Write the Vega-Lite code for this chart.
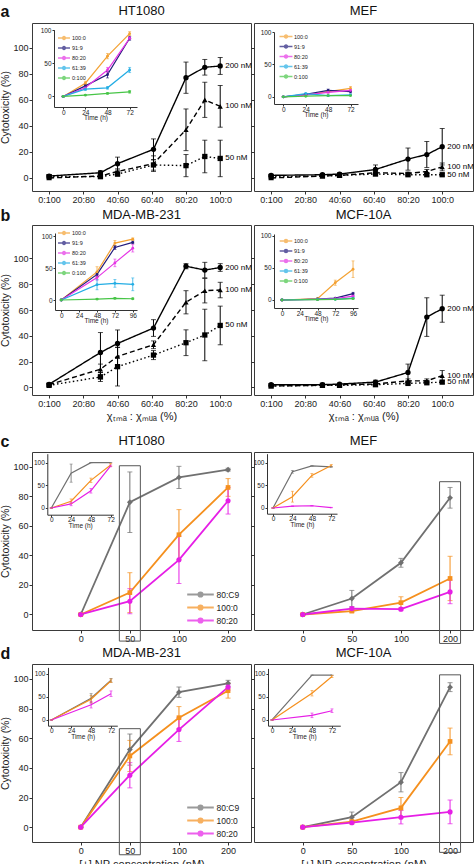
{
"$schema": "https://vega.github.io/schema/vega-lite/v6.json",
"background": "white",
"padding": {"left": 0, "top": 3, "right": 0, "bottom": 0},
"datasets": {
"ab": [
{"cell":"HT1080","conc":"200 nM","r":0,"v":1.5,"e":1},{"cell":"HT1080","conc":"200 nM","r":30,"v":4,"e":1.5},{"cell":"HT1080","conc":"200 nM","r":40,"v":11,"e":5},{"cell":"HT1080","conc":"200 nM","r":61,"v":22,"e":8},{"cell":"HT1080","conc":"200 nM","r":80,"v":77,"e":12},{"cell":"HT1080","conc":"200 nM","r":91,"v":85,"e":6},{"cell":"HT1080","conc":"200 nM","r":100,"v":86,"e":6.5},
{"cell":"HT1080","conc":"100 nM","r":0,"v":0,"e":1},{"cell":"HT1080","conc":"100 nM","r":30,"v":1.5,"e":1},{"cell":"HT1080","conc":"100 nM","r":40,"v":5,"e":2},{"cell":"HT1080","conc":"100 nM","r":61,"v":11,"e":6},{"cell":"HT1080","conc":"100 nM","r":80,"v":37,"e":16},{"cell":"HT1080","conc":"100 nM","r":91,"v":60,"e":13.5},{"cell":"HT1080","conc":"100 nM","r":100,"v":55,"e":16},
{"cell":"HT1080","conc":"50 nM","r":0,"v":1,"e":1},{"cell":"HT1080","conc":"50 nM","r":30,"v":1,"e":1},{"cell":"HT1080","conc":"50 nM","r":40,"v":3,"e":1.5},{"cell":"HT1080","conc":"50 nM","r":61,"v":10,"e":4},{"cell":"HT1080","conc":"50 nM","r":80,"v":9.5,"e":8.5},{"cell":"HT1080","conc":"50 nM","r":91,"v":16.5,"e":12.5},{"cell":"HT1080","conc":"50 nM","r":100,"v":15,"e":14},
{"cell":"MEF","conc":"200 nM","r":0,"v":2,"e":1},{"cell":"MEF","conc":"200 nM","r":30,"v":2.5,"e":1},{"cell":"MEF","conc":"200 nM","r":40,"v":3,"e":1},{"cell":"MEF","conc":"200 nM","r":61,"v":6.5,"e":3.5},{"cell":"MEF","conc":"200 nM","r":80,"v":14.5,"e":8.5},{"cell":"MEF","conc":"200 nM","r":91,"v":18,"e":10},{"cell":"MEF","conc":"200 nM","r":100,"v":24,"e":14},
{"cell":"MEF","conc":"100 nM","r":0,"v":0,"e":1},{"cell":"MEF","conc":"100 nM","r":30,"v":1.5,"e":0.5},{"cell":"MEF","conc":"100 nM","r":40,"v":2,"e":0.5},{"cell":"MEF","conc":"100 nM","r":61,"v":4,"e":1},{"cell":"MEF","conc":"100 nM","r":80,"v":3.5,"e":1},{"cell":"MEF","conc":"100 nM","r":91,"v":5,"e":1.5},{"cell":"MEF","conc":"100 nM","r":100,"v":8.5,"e":3},
{"cell":"MEF","conc":"50 nM","r":0,"v":1,"e":0.5},{"cell":"MEF","conc":"50 nM","r":30,"v":1.5,"e":0.5},{"cell":"MEF","conc":"50 nM","r":40,"v":2,"e":0.5},{"cell":"MEF","conc":"50 nM","r":61,"v":3,"e":1},{"cell":"MEF","conc":"50 nM","r":80,"v":2.5,"e":1},{"cell":"MEF","conc":"50 nM","r":91,"v":2.5,"e":1},{"cell":"MEF","conc":"50 nM","r":100,"v":2.5,"e":1},
{"cell":"MDA-MB-231","conc":"200 nM","r":0,"v":2.3,"e":1},{"cell":"MDA-MB-231","conc":"200 nM","r":30,"v":27,"e":15.5},{"cell":"MDA-MB-231","conc":"200 nM","r":40,"v":34,"e":10.5},{"cell":"MDA-MB-231","conc":"200 nM","r":61,"v":46,"e":6.5},{"cell":"MDA-MB-231","conc":"200 nM","r":80,"v":94,"e":2},{"cell":"MDA-MB-231","conc":"200 nM","r":91,"v":91,"e":6},{"cell":"MDA-MB-231","conc":"200 nM","r":100,"v":93,"e":3},
{"cell":"MDA-MB-231","conc":"100 nM","r":0,"v":2,"e":1},{"cell":"MDA-MB-231","conc":"100 nM","r":30,"v":14,"e":4},{"cell":"MDA-MB-231","conc":"100 nM","r":40,"v":24,"e":7},{"cell":"MDA-MB-231","conc":"100 nM","r":61,"v":33,"e":3},{"cell":"MDA-MB-231","conc":"100 nM","r":80,"v":66,"e":9},{"cell":"MDA-MB-231","conc":"100 nM","r":91,"v":75,"e":9.5},{"cell":"MDA-MB-231","conc":"100 nM","r":100,"v":75.5,"e":6},
{"cell":"MDA-MB-231","conc":"50 nM","r":0,"v":1.5,"e":1},{"cell":"MDA-MB-231","conc":"50 nM","r":30,"v":8,"e":3.5},{"cell":"MDA-MB-231","conc":"50 nM","r":40,"v":16,"e":15},{"cell":"MDA-MB-231","conc":"50 nM","r":61,"v":25,"e":3.5},{"cell":"MDA-MB-231","conc":"50 nM","r":80,"v":34.6,"e":10},{"cell":"MDA-MB-231","conc":"50 nM","r":91,"v":40.6,"e":20},{"cell":"MDA-MB-231","conc":"50 nM","r":100,"v":48,"e":15},
{"cell":"MCF-10A","conc":"200 nM","r":0,"v":2,"e":1},{"cell":"MCF-10A","conc":"200 nM","r":30,"v":2,"e":0.5},{"cell":"MCF-10A","conc":"200 nM","r":40,"v":2.5,"e":0.5},{"cell":"MCF-10A","conc":"200 nM","r":61,"v":4,"e":1.5},{"cell":"MCF-10A","conc":"200 nM","r":80,"v":11.5,"e":6.5},{"cell":"MCF-10A","conc":"200 nM","r":91,"v":54.5,"e":15},{"cell":"MCF-10A","conc":"200 nM","r":100,"v":61,"e":10.5},
{"cell":"MCF-10A","conc":"100 nM","r":0,"v":1,"e":0.5},{"cell":"MCF-10A","conc":"100 nM","r":30,"v":1.5,"e":0.5},{"cell":"MCF-10A","conc":"100 nM","r":40,"v":2,"e":0.5},{"cell":"MCF-10A","conc":"100 nM","r":61,"v":2.5,"e":1},{"cell":"MCF-10A","conc":"100 nM","r":80,"v":5,"e":1.5},{"cell":"MCF-10A","conc":"100 nM","r":91,"v":5,"e":1.5},{"cell":"MCF-10A","conc":"100 nM","r":100,"v":9,"e":4},
{"cell":"MCF-10A","conc":"50 nM","r":0,"v":1,"e":0.5},{"cell":"MCF-10A","conc":"50 nM","r":30,"v":1.5,"e":0.5},{"cell":"MCF-10A","conc":"50 nM","r":40,"v":1.5,"e":0.5},{"cell":"MCF-10A","conc":"50 nM","r":61,"v":2,"e":1},{"cell":"MCF-10A","conc":"50 nM","r":80,"v":3,"e":1},{"cell":"MCF-10A","conc":"50 nM","r":91,"v":3.5,"e":1},{"cell":"MCF-10A","conc":"50 nM","r":100,"v":4,"e":1}
],
"abi": [
{"cell":"HT1080","ratio":"100:0","t":0,"v":0,"e":0.5},{"cell":"HT1080","ratio":"100:0","t":24,"v":20,"e":3},{"cell":"HT1080","ratio":"100:0","t":48,"v":61,"e":4},{"cell":"HT1080","ratio":"100:0","t":72,"v":95,"e":3},
{"cell":"HT1080","ratio":"91:9","t":0,"v":0,"e":0.5},{"cell":"HT1080","ratio":"91:9","t":24,"v":16,"e":2},{"cell":"HT1080","ratio":"91:9","t":48,"v":33,"e":5},{"cell":"HT1080","ratio":"91:9","t":72,"v":88,"e":3},
{"cell":"HT1080","ratio":"80:20","t":0,"v":0,"e":0.5},{"cell":"HT1080","ratio":"80:20","t":24,"v":13,"e":2},{"cell":"HT1080","ratio":"80:20","t":48,"v":40,"e":4},{"cell":"HT1080","ratio":"80:20","t":72,"v":88,"e":2},
{"cell":"HT1080","ratio":"61:39","t":0,"v":0,"e":0.5},{"cell":"HT1080","ratio":"61:39","t":24,"v":11,"e":2},{"cell":"HT1080","ratio":"61:39","t":48,"v":13,"e":2},{"cell":"HT1080","ratio":"61:39","t":72,"v":40,"e":4},
{"cell":"HT1080","ratio":"0:100","t":0,"v":0,"e":0.5},{"cell":"HT1080","ratio":"0:100","t":24,"v":2,"e":1},{"cell":"HT1080","ratio":"0:100","t":48,"v":4.5,"e":1},{"cell":"HT1080","ratio":"0:100","t":72,"v":7,"e":2},
{"cell":"MEF","ratio":"100:0","t":0,"v":0,"e":0.5},{"cell":"MEF","ratio":"100:0","t":24,"v":3,"e":1},{"cell":"MEF","ratio":"100:0","t":48,"v":8,"e":2},{"cell":"MEF","ratio":"100:0","t":72,"v":13,"e":3},
{"cell":"MEF","ratio":"91:9","t":0,"v":0,"e":0.5},{"cell":"MEF","ratio":"91:9","t":24,"v":4,"e":1},{"cell":"MEF","ratio":"91:9","t":48,"v":10,"e":2},{"cell":"MEF","ratio":"91:9","t":72,"v":8,"e":2},
{"cell":"MEF","ratio":"80:20","t":0,"v":0,"e":0.5},{"cell":"MEF","ratio":"80:20","t":24,"v":3,"e":1},{"cell":"MEF","ratio":"80:20","t":48,"v":7,"e":1},{"cell":"MEF","ratio":"80:20","t":72,"v":10,"e":1},
{"cell":"MEF","ratio":"61:39","t":0,"v":0,"e":0.5},{"cell":"MEF","ratio":"61:39","t":24,"v":5,"e":1},{"cell":"MEF","ratio":"61:39","t":48,"v":2,"e":1},{"cell":"MEF","ratio":"61:39","t":72,"v":3,"e":1},
{"cell":"MEF","ratio":"0:100","t":0,"v":0,"e":0.5},{"cell":"MEF","ratio":"0:100","t":24,"v":1,"e":0.5},{"cell":"MEF","ratio":"0:100","t":48,"v":2,"e":0.5},{"cell":"MEF","ratio":"0:100","t":72,"v":2,"e":0.5},
{"cell":"MDA-MB-231","ratio":"100:0","t":0,"v":0,"e":0.5},{"cell":"MDA-MB-231","ratio":"100:0","t":48,"v":44,"e":8},{"cell":"MDA-MB-231","ratio":"100:0","t":72,"v":89,"e":4},{"cell":"MDA-MB-231","ratio":"100:0","t":96,"v":95,"e":2},
{"cell":"MDA-MB-231","ratio":"91:9","t":0,"v":0,"e":0.5},{"cell":"MDA-MB-231","ratio":"91:9","t":48,"v":40,"e":3},{"cell":"MDA-MB-231","ratio":"91:9","t":72,"v":82,"e":3},{"cell":"MDA-MB-231","ratio":"91:9","t":96,"v":90,"e":2},
{"cell":"MDA-MB-231","ratio":"80:20","t":0,"v":0,"e":0.5},{"cell":"MDA-MB-231","ratio":"80:20","t":48,"v":35,"e":4},{"cell":"MDA-MB-231","ratio":"80:20","t":72,"v":58,"e":6},{"cell":"MDA-MB-231","ratio":"80:20","t":96,"v":81,"e":6},
{"cell":"MDA-MB-231","ratio":"61:39","t":0,"v":0,"e":0.5},{"cell":"MDA-MB-231","ratio":"61:39","t":48,"v":24,"e":8},{"cell":"MDA-MB-231","ratio":"61:39","t":72,"v":26,"e":6},{"cell":"MDA-MB-231","ratio":"61:39","t":96,"v":24.5,"e":10},
{"cell":"MDA-MB-231","ratio":"0:100","t":0,"v":0,"e":0.5},{"cell":"MDA-MB-231","ratio":"0:100","t":48,"v":1.5,"e":1},{"cell":"MDA-MB-231","ratio":"0:100","t":72,"v":2.6,"e":1},{"cell":"MDA-MB-231","ratio":"0:100","t":96,"v":2,"e":1},
{"cell":"MCF-10A","ratio":"100:0","t":0,"v":0,"e":0.5},{"cell":"MCF-10A","ratio":"100:0","t":48,"v":2,"e":1},{"cell":"MCF-10A","ratio":"100:0","t":72,"v":27,"e":4},{"cell":"MCF-10A","ratio":"100:0","t":96,"v":48,"e":13},
{"cell":"MCF-10A","ratio":"91:9","t":0,"v":0,"e":0.5},{"cell":"MCF-10A","ratio":"91:9","t":48,"v":1.5,"e":0.5},{"cell":"MCF-10A","ratio":"91:9","t":72,"v":3,"e":1},{"cell":"MCF-10A","ratio":"91:9","t":96,"v":10,"e":2},
{"cell":"MCF-10A","ratio":"80:20","t":0,"v":0,"e":0.5},{"cell":"MCF-10A","ratio":"80:20","t":48,"v":1,"e":0.5},{"cell":"MCF-10A","ratio":"80:20","t":72,"v":2,"e":0.5},{"cell":"MCF-10A","ratio":"80:20","t":96,"v":6,"e":1},
{"cell":"MCF-10A","ratio":"61:39","t":0,"v":0,"e":0.5},{"cell":"MCF-10A","ratio":"61:39","t":48,"v":1,"e":0.5},{"cell":"MCF-10A","ratio":"61:39","t":72,"v":1,"e":0.5},{"cell":"MCF-10A","ratio":"61:39","t":96,"v":3,"e":1},
{"cell":"MCF-10A","ratio":"0:100","t":0,"v":0,"e":0.5},{"cell":"MCF-10A","ratio":"0:100","t":48,"v":0.5,"e":0.5},{"cell":"MCF-10A","ratio":"0:100","t":72,"v":1,"e":0.5},{"cell":"MCF-10A","ratio":"0:100","t":96,"v":2,"e":0.5}
],
"cd": [
{"cell":"HT1080","ratio":"80:C9","c":"0","v":0,"e":0.5},{"cell":"HT1080","ratio":"80:C9","c":"50","v":76,"e":20.5},{"cell":"HT1080","ratio":"80:C9","c":"100","v":92.8,"e":7.5},{"cell":"HT1080","ratio":"80:C9","c":"200","v":98,"e":1},
{"cell":"HT1080","ratio":"100:0","c":"0","v":0,"e":0.5},{"cell":"HT1080","ratio":"100:0","c":"50","v":14.8,"e":13.5},{"cell":"HT1080","ratio":"100:0","c":"100","v":54,"e":17},{"cell":"HT1080","ratio":"100:0","c":"200","v":86,"e":6},
{"cell":"HT1080","ratio":"80:20","c":"0","v":0,"e":0.5},{"cell":"HT1080","ratio":"80:20","c":"50","v":9,"e":8.5},{"cell":"HT1080","ratio":"80:20","c":"100","v":37,"e":16},{"cell":"HT1080","ratio":"80:20","c":"200","v":77,"e":9},
{"cell":"MEF","ratio":"80:C9","c":"0","v":0,"e":0.5},{"cell":"MEF","ratio":"80:C9","c":"50","v":10.8,"e":5.5},{"cell":"MEF","ratio":"80:C9","c":"100","v":35,"e":3},{"cell":"MEF","ratio":"80:C9","c":"200","v":79,"e":7},
{"cell":"MEF","ratio":"100:0","c":"0","v":0,"e":0.5},{"cell":"MEF","ratio":"100:0","c":"50","v":2.3,"e":1},{"cell":"MEF","ratio":"100:0","c":"100","v":8,"e":4},{"cell":"MEF","ratio":"100:0","c":"200","v":24.4,"e":15},
{"cell":"MEF","ratio":"80:20","c":"0","v":0,"e":0.5},{"cell":"MEF","ratio":"80:20","c":"50","v":4,"e":1},{"cell":"MEF","ratio":"80:20","c":"100","v":3.6,"e":1},{"cell":"MEF","ratio":"80:20","c":"200","v":15.3,"e":8},
{"cell":"MDA-MB-231","ratio":"80:C9","c":"0","v":0,"e":0.5},{"cell":"MDA-MB-231","ratio":"80:C9","c":"50","v":52.3,"e":10.5},{"cell":"MDA-MB-231","ratio":"80:C9","c":"100","v":91,"e":3.5},{"cell":"MDA-MB-231","ratio":"80:C9","c":"200","v":97,"e":2},
{"cell":"MDA-MB-231","ratio":"100:0","c":"0","v":0,"e":0.5},{"cell":"MDA-MB-231","ratio":"100:0","c":"50","v":48,"e":10.5},{"cell":"MDA-MB-231","ratio":"100:0","c":"100","v":73.8,"e":7.5},{"cell":"MDA-MB-231","ratio":"100:0","c":"200","v":92,"e":5},
{"cell":"MDA-MB-231","ratio":"80:20","c":"0","v":0,"e":0.5},{"cell":"MDA-MB-231","ratio":"80:20","c":"50","v":35,"e":8.5},{"cell":"MDA-MB-231","ratio":"80:20","c":"100","v":65.8,"e":8},{"cell":"MDA-MB-231","ratio":"80:20","c":"200","v":94.4,"e":2},
{"cell":"MCF-10A","ratio":"80:C9","c":"0","v":0,"e":0.5},{"cell":"MCF-10A","ratio":"80:C9","c":"50","v":6.7,"e":3.5},{"cell":"MCF-10A","ratio":"80:C9","c":"100","v":30.3,"e":6.5},{"cell":"MCF-10A","ratio":"80:C9","c":"200","v":94.4,"e":3},
{"cell":"MCF-10A","ratio":"100:0","c":"0","v":0,"e":0.5},{"cell":"MCF-10A","ratio":"100:0","c":"50","v":3.8,"e":1},{"cell":"MCF-10A","ratio":"100:0","c":"100","v":13,"e":7},{"cell":"MCF-10A","ratio":"100:0","c":"200","v":57.8,"e":9},
{"cell":"MCF-10A","ratio":"80:20","c":"0","v":0,"e":0.5},{"cell":"MCF-10A","ratio":"80:20","c":"50","v":3,"e":1},{"cell":"MCF-10A","ratio":"80:20","c":"100","v":6.7,"e":4.5},{"cell":"MCF-10A","ratio":"80:20","c":"200","v":10.3,"e":8}
],
"cdi": [
{"cell":"HT1080","ratio":"80:C9","t":0,"v":0,"e":0},{"cell":"HT1080","ratio":"80:C9","t":24,"v":77,"e":20},{"cell":"HT1080","ratio":"80:C9","t":48,"v":100,"e":0},{"cell":"HT1080","ratio":"80:C9","t":72,"v":100,"e":0},
{"cell":"HT1080","ratio":"100:0","t":0,"v":0,"e":0},{"cell":"HT1080","ratio":"100:0","t":24,"v":15,"e":5},{"cell":"HT1080","ratio":"100:0","t":48,"v":61,"e":5},{"cell":"HT1080","ratio":"100:0","t":72,"v":95,"e":3},
{"cell":"HT1080","ratio":"80:20","t":0,"v":0,"e":0},{"cell":"HT1080","ratio":"80:20","t":24,"v":9,"e":4},{"cell":"HT1080","ratio":"80:20","t":48,"v":38,"e":5},{"cell":"HT1080","ratio":"80:20","t":72,"v":93,"e":2},
{"cell":"MEF","ratio":"80:C9","t":0,"v":0,"e":0},{"cell":"MEF","ratio":"80:C9","t":24,"v":80,"e":3},{"cell":"MEF","ratio":"80:C9","t":48,"v":93,"e":0},{"cell":"MEF","ratio":"80:C9","t":72,"v":91,"e":1},
{"cell":"MEF","ratio":"100:0","t":0,"v":0,"e":0},{"cell":"MEF","ratio":"100:0","t":24,"v":25,"e":12},{"cell":"MEF","ratio":"100:0","t":48,"v":72,"e":4},{"cell":"MEF","ratio":"100:0","t":72,"v":94,"e":2},
{"cell":"MEF","ratio":"80:20","t":0,"v":0,"e":0},{"cell":"MEF","ratio":"80:20","t":24,"v":4,"e":0.5},{"cell":"MEF","ratio":"80:20","t":48,"v":5,"e":0.5},{"cell":"MEF","ratio":"80:20","t":72,"v":1,"e":0.5},
{"cell":"MDA-MB-231","ratio":"80:C9","t":0,"v":0,"e":0},{"cell":"MDA-MB-231","ratio":"80:C9","t":48,"v":47,"e":10},{"cell":"MDA-MB-231","ratio":"80:C9","t":72,"v":86,"e":4},
{"cell":"MDA-MB-231","ratio":"100:0","t":0,"v":0,"e":0},{"cell":"MDA-MB-231","ratio":"100:0","t":48,"v":45,"e":8},{"cell":"MDA-MB-231","ratio":"100:0","t":72,"v":85,"e":4},
{"cell":"MDA-MB-231","ratio":"80:20","t":0,"v":0,"e":0},{"cell":"MDA-MB-231","ratio":"80:20","t":48,"v":33,"e":7},{"cell":"MDA-MB-231","ratio":"80:20","t":72,"v":57,"e":6},
{"cell":"MCF-10A","ratio":"80:C9","t":0,"v":0,"e":0},{"cell":"MCF-10A","ratio":"80:C9","t":48,"v":97,"e":0},{"cell":"MCF-10A","ratio":"80:C9","t":72,"v":97,"e":0},
{"cell":"MCF-10A","ratio":"100:0","t":0,"v":0,"e":0},{"cell":"MCF-10A","ratio":"100:0","t":48,"v":58,"e":6},{"cell":"MCF-10A","ratio":"100:0","t":72,"v":94,"e":2},
{"cell":"MCF-10A","ratio":"80:20","t":0,"v":0,"e":0},{"cell":"MCF-10A","ratio":"80:20","t":48,"v":10,"e":5},{"cell":"MCF-10A","ratio":"80:20","t":72,"v":20,"e":4}
]
},
"spacing": 11,
"resolve": {"scale": {"color": "independent", "shape": "independent", "strokeDash": "independent"}, "legend": {"color": "independent", "shape": "independent", "strokeDash": "independent"}},
"vconcat": [
{
"spacing": 2,
"resolve": {"scale": {"color": "independent", "shape": "independent", "strokeDash": "independent"}, "legend": {"color": "independent", "shape": "independent", "strokeDash": "independent"}},
"vconcat": [
{
"title": {"text": "a", "anchor": "start", "fontWeight": "bold", "fontSize": 16, "offset": -15, "frame": "bounds"},
"bounds": "flush", "spacing": 3,
"resolve": {"scale": {"color": "independent", "shape": "independent", "strokeDash": "independent"}, "legend": {"color": "independent", "shape": "independent", "strokeDash": "independent"}},
"hconcat": [
{
"width": 219, "height": 168, "title": {"text": "HT1080", "offset": 5},
"resolve": {"scale": {"x": "independent", "y": "independent"}, "axis": {"x": "independent", "y": "independent"}},
"layer": [
{"data": {"name": "ab"}, "transform": [{"filter": "datum.cell == 'HT1080'"}],
"encoding": {
"x": {"field": "r", "type": "quantitative", "scale": {"domain": [-10, 118], "nice": false, "zero": false}, "axis": {"values": [0,20,40,60,80,100], "labelExpr": "datum.value + ':' + (100 - datum.value)", "title": null}},
"y": {"field": "v", "type": "quantitative", "scale": {"domain": [-10, 119], "nice": false, "zero": false}, "axis": {"values": [0,20,40,60,80,100], "title": "Cytotoxicity (%)"}}},
"layer": [
{"mark": {"type": "line", "color": "black", "strokeWidth": 1.4}, "encoding": {"strokeDash": {"field": "conc", "type": "nominal", "scale": {"domain": ["200 nM","100 nM","50 nM"], "range": [[1,0],[5,3],[1.5,2.5]]}, "legend": null}}},
{"mark": {"type": "errorbar", "ticks": {"size": 5}, "color": "black", "thickness": 1}, "encoding": {"yError": {"field": "e"}}},
{"mark": {"type": "point", "filled": true, "color": "black", "size": 28, "opacity": 1}, "encoding": {"shape": {"field": "conc", "type": "nominal", "scale": {"domain": ["200 nM","100 nM","50 nM"], "range": ["circle","triangle-up","square"]}, "legend": null}}},
{"transform": [{"filter": "datum.r == 100"}], "mark": {"type": "text", "align": "left", "dx": 5, "fontSize": 8}, "encoding": {"text": {"field": "conc"}}}
]},
{
"encoding": {
"x": {"field": "t", "type": "quantitative", "scale": {"domain": [-10, 80], "range": [22, 105], "nice": false, "zero": false}, "axis": {"orient": "bottom", "offset": -84, "values": [0,24,48,72], "title": "Time (h)", "labelFontSize": 6.5, "titleFontSize": 6.5, "tickSize": 2, "labelPadding": 0, "titlePadding": -1, "zindex": 1, "domain": true, "domainColor": "#333", "domainWidth": 1}},
"y": {"field": "v", "type": "quantitative", "scale": {"domain": [-16, 101], "range": [84, 6.7], "nice": false, "zero": false}, "axis": {"orient": "left", "offset": -22, "values": [0,50,100], "title": null, "labelFontSize": 6.5, "tickSize": 2, "labelPadding": 1, "zindex": 1, "domain": true, "domainColor": "#333", "domainWidth": 1}}},
"layer": [
{"data": {"values": [{}]}, "mark": {"type": "rect", "fill": "white", "stroke": "#333", "strokeWidth": 1}, "encoding": {"x": {"datum": -10, "type": "quantitative"}, "x2": {"datum": 80}, "y": {"datum": -16, "type": "quantitative"}, "y2": {"datum": 101}}},
{"data": {"values": [{}]}, "mark": {"type": "rule", "color": "#333", "strokeWidth": 1}, "encoding": {"x": {"datum": -10, "type": "quantitative"}, "x2": {"datum": 80}, "y": {"datum": 101, "type": "quantitative"}}},
{"data": {"values": [{}]}, "mark": {"type": "rule", "color": "#333", "strokeWidth": 1}, "encoding": {"x": {"datum": 80, "type": "quantitative"}, "y": {"datum": -16, "type": "quantitative"}, "y2": {"datum": 101}}},
{"data": {"name": "abi"}, "transform": [{"filter": "datum.cell == 'HT1080'"}],
"encoding": {"color": {"field": "ratio", "type": "nominal", "scale": {"domain": ["100:0","91:9","80:20","61:39","0:100"], "range": ["#f4a233","#221c7c","#e535e5","#23ade4","#47c547"]}, "legend": {"title": null, "orient": "none", "legendX": 28, "legendY": 11, "symbolType": "M-2,0H2M-0.5,0A0.5,0.5,0,1,0,0.5,0A0.5,0.5,0,1,0,-0.5,0Z", "symbolSize": 36, "symbolStrokeWidth": 1.3, "labelFontSize": 5.5, "rowPadding": 0, "padding": 0, "labelOffset": 4}}},
"layer": [
{"mark": {"type": "line", "strokeWidth": 1.2}},
{"mark": {"type": "errorbar", "ticks": {"size": 3}, "thickness": 0.8}, "encoding": {"yError": {"field": "e"}}},
{"mark": {"type": "point", "filled": true, "size": 8, "opacity": 1}}
]}
]}
]
},
{
"width": 219, "height": 168, "title": {"text": "MEF", "offset": 5},
"resolve": {"scale": {"x": "independent", "y": "independent"}, "axis": {"x": "independent", "y": "independent"}},
"layer": [
{"data": {"name": "ab"}, "transform": [{"filter": "datum.cell == 'MEF'"}],
"encoding": {
"x": {"field": "r", "type": "quantitative", "scale": {"domain": [-10, 118], "nice": false, "zero": false}, "axis": {"values": [0,20,40,60,80,100], "labelExpr": "datum.value + ':' + (100 - datum.value)", "title": null}},
"y": {"field": "v", "type": "quantitative", "scale": {"domain": [-10, 119], "nice": false, "zero": false}, "axis": {"values": [0,20,40,60,80,100], "labels": false, "title": null}}},
"layer": [
{"mark": {"type": "line", "color": "black", "strokeWidth": 1.4}, "encoding": {"strokeDash": {"field": "conc", "type": "nominal", "scale": {"domain": ["200 nM","100 nM","50 nM"], "range": [[1,0],[5,3],[1.5,2.5]]}, "legend": null}}},
{"mark": {"type": "errorbar", "ticks": {"size": 5}, "color": "black", "thickness": 1}, "encoding": {"yError": {"field": "e"}}},
{"mark": {"type": "point", "filled": true, "color": "black", "size": 28, "opacity": 1}, "encoding": {"shape": {"field": "conc", "type": "nominal", "scale": {"domain": ["200 nM","100 nM","50 nM"], "range": ["circle","triangle-up","square"]}, "legend": null}}},
{"transform": [{"filter": "datum.r == 100"}], "mark": {"type": "text", "align": "left", "dx": 5, "fontSize": 8}, "encoding": {"text": {"field": "conc"}}}
]},
{
"encoding": {
"x": {"field": "t", "type": "quantitative", "scale": {"domain": [-10, 80], "range": [20, 104], "nice": false, "zero": false}, "axis": {"orient": "bottom", "offset": -87, "values": [0,24,48,72], "title": "Time (h)", "labelFontSize": 6.5, "titleFontSize": 6.5, "tickSize": 2, "labelPadding": 0, "titlePadding": -1, "zindex": 1, "domain": true, "domainColor": "#333", "domainWidth": 1}},
"y": {"field": "v", "type": "quantitative", "scale": {"domain": [-11, 100], "range": [81, 9], "nice": false, "zero": false}, "axis": {"orient": "left", "offset": -20, "values": [0,50,100], "title": null, "labelFontSize": 6.5, "tickSize": 2, "labelPadding": 1, "zindex": 1, "domain": true, "domainColor": "#333", "domainWidth": 1}}},
"layer": [
{"data": {"values": [{}]}, "mark": {"type": "rect", "fill": "white", "stroke": "#333", "strokeWidth": 1}, "encoding": {"x": {"datum": -10, "type": "quantitative"}, "x2": {"datum": 80}, "y": {"datum": -11, "type": "quantitative"}, "y2": {"datum": 100}}},
{"data": {"values": [{}]}, "mark": {"type": "rule", "color": "#333", "strokeWidth": 1}, "encoding": {"x": {"datum": -10, "type": "quantitative"}, "x2": {"datum": 80}, "y": {"datum": 100, "type": "quantitative"}}},
{"data": {"values": [{}]}, "mark": {"type": "rule", "color": "#333", "strokeWidth": 1}, "encoding": {"x": {"datum": 80, "type": "quantitative"}, "y": {"datum": -11, "type": "quantitative"}, "y2": {"datum": 100}}},
{"data": {"name": "abi"}, "transform": [{"filter": "datum.cell == 'MEF'"}],
"encoding": {"color": {"field": "ratio", "type": "nominal", "scale": {"domain": ["100:0","91:9","80:20","61:39","0:100"], "range": ["#f4a233","#221c7c","#e535e5","#23ade4","#47c547"]}, "legend": {"title": null, "orient": "none", "legendX": 28, "legendY": 9.5, "symbolType": "M-2,0H2M-0.5,0A0.5,0.5,0,1,0,0.5,0A0.5,0.5,0,1,0,-0.5,0Z", "symbolSize": 42, "symbolStrokeWidth": 1.3, "labelFontSize": 5.5, "rowPadding": 0, "padding": 0, "labelOffset": 4}}},
"layer": [
{"mark": {"type": "line", "strokeWidth": 1.2}},
{"mark": {"type": "errorbar", "ticks": {"size": 3}, "thickness": 0.8}, "encoding": {"yError": {"field": "e"}}},
{"mark": {"type": "point", "filled": true, "size": 8, "opacity": 1}}
]}
]}
]
}
]
},
{
"title": {"text": "b", "anchor": "start", "fontWeight": "bold", "fontSize": 16, "offset": -15, "frame": "bounds"},
"bounds": "flush", "spacing": 3,
"resolve": {"scale": {"color": "independent", "shape": "independent", "strokeDash": "independent"}, "legend": {"color": "independent", "shape": "independent", "strokeDash": "independent"}},
"hconcat": [
{
"width": 219, "height": 170, "title": {"text": "MDA-MB-231", "offset": 3},
"resolve": {"scale": {"x": "independent", "y": "independent"}, "axis": {"x": "independent", "y": "independent"}},
"layer": [
{"data": {"name": "ab"}, "transform": [{"filter": "datum.cell == 'MDA-MB-231'"}],
"encoding": {
"x": {"field": "r", "type": "quantitative", "scale": {"domain": [-10, 118], "nice": false, "zero": false}, "axis": {"values": [0,20,40,60,80,100], "labelExpr": "datum.value + ':' + (100 - datum.value)", "title": "χₜₘₐ : χₘᵤₐ (%)", "titleFontSize": 11, "titlePadding": 2}},
"y": {"field": "v", "type": "quantitative", "scale": {"domain": [-6, 126], "nice": false, "zero": false}, "axis": {"values": [0,20,40,60,80,100], "title": "Cytotoxicity (%)"}}},
"layer": [
{"mark": {"type": "line", "color": "black", "strokeWidth": 1.4}, "encoding": {"strokeDash": {"field": "conc", "type": "nominal", "scale": {"domain": ["200 nM","100 nM","50 nM"], "range": [[1,0],[5,3],[1.5,2.5]]}, "legend": null}}},
{"mark": {"type": "errorbar", "ticks": {"size": 5}, "color": "black", "thickness": 1}, "encoding": {"yError": {"field": "e"}}},
{"mark": {"type": "point", "filled": true, "color": "black", "size": 28, "opacity": 1}, "encoding": {"shape": {"field": "conc", "type": "nominal", "scale": {"domain": ["200 nM","100 nM","50 nM"], "range": ["circle","triangle-up","square"]}, "legend": null}}},
{"transform": [{"filter": "datum.r == 100"}], "mark": {"type": "text", "align": "left", "dx": 5, "fontSize": 8}, "encoding": {"text": {"field": "conc"}}}
]},
{
"encoding": {
"x": {"field": "t", "type": "quantitative", "scale": {"domain": [-8.5, 101.7], "range": [23, 105], "nice": false, "zero": false}, "axis": {"orient": "bottom", "offset": -85, "values": [0,24,48,72,96], "title": "Time (h)", "labelFontSize": 6.5, "titleFontSize": 6.5, "tickSize": 2, "labelPadding": 0, "titlePadding": -1, "zindex": 1, "domain": true, "domainColor": "#333", "domainWidth": 1}},
"y": {"field": "v", "type": "quantitative", "scale": {"domain": [-15.6, 104.7], "range": [85, 8], "nice": false, "zero": false}, "axis": {"orient": "left", "offset": -23, "values": [0,50,100], "title": null, "labelFontSize": 6.5, "tickSize": 2, "labelPadding": 1, "zindex": 1, "domain": true, "domainColor": "#333", "domainWidth": 1}}},
"layer": [
{"data": {"values": [{}]}, "mark": {"type": "rect", "fill": "white", "stroke": "#333", "strokeWidth": 1}, "encoding": {"x": {"datum": -8.5, "type": "quantitative"}, "x2": {"datum": 101.7}, "y": {"datum": -15.6, "type": "quantitative"}, "y2": {"datum": 104.7}}},
{"data": {"values": [{}]}, "mark": {"type": "rule", "color": "#333", "strokeWidth": 1}, "encoding": {"x": {"datum": -8.5, "type": "quantitative"}, "x2": {"datum": 101.7}, "y": {"datum": 104.7, "type": "quantitative"}}},
{"data": {"values": [{}]}, "mark": {"type": "rule", "color": "#333", "strokeWidth": 1}, "encoding": {"x": {"datum": 101.7, "type": "quantitative"}, "y": {"datum": -15.6, "type": "quantitative"}, "y2": {"datum": 104.7}}},
{"data": {"name": "abi"}, "transform": [{"filter": "datum.cell == 'MDA-MB-231'"}],
"encoding": {"color": {"field": "ratio", "type": "nominal", "scale": {"domain": ["100:0","91:9","80:20","61:39","0:100"], "range": ["#f4a233","#221c7c","#e535e5","#23ade4","#47c547"]}, "legend": {"title": null, "orient": "none", "legendX": 28, "legendY": 4, "symbolType": "M-2,0H2M-0.5,0A0.5,0.5,0,1,0,0.5,0A0.5,0.5,0,1,0,-0.5,0Z", "symbolSize": 36, "symbolStrokeWidth": 1.3, "labelFontSize": 5.5, "rowPadding": 0, "padding": 0, "labelOffset": 4}}},
"layer": [
{"mark": {"type": "line", "strokeWidth": 1.2}},
{"mark": {"type": "errorbar", "ticks": {"size": 3}, "thickness": 0.8}, "encoding": {"yError": {"field": "e"}}},
{"mark": {"type": "point", "filled": true, "size": 8, "opacity": 1}}
]}
]}
]
},
{
"width": 219, "height": 170, "title": {"text": "MCF-10A", "offset": 3},
"resolve": {"scale": {"x": "independent", "y": "independent"}, "axis": {"x": "independent", "y": "independent"}},
"layer": [
{"data": {"name": "ab"}, "transform": [{"filter": "datum.cell == 'MCF-10A'"}],
"encoding": {
"x": {"field": "r", "type": "quantitative", "scale": {"domain": [-10, 118], "nice": false, "zero": false}, "axis": {"values": [0,20,40,60,80,100], "labelExpr": "datum.value + ':' + (100 - datum.value)", "title": "χₜₘₐ : χₘᵤₐ (%)", "titleFontSize": 11, "titlePadding": 2}},
"y": {"field": "v", "type": "quantitative", "scale": {"domain": [-6, 126], "nice": false, "zero": false}, "axis": {"values": [0,20,40,60,80,100], "labels": false, "title": null}}},
"layer": [
{"mark": {"type": "line", "color": "black", "strokeWidth": 1.4}, "encoding": {"strokeDash": {"field": "conc", "type": "nominal", "scale": {"domain": ["200 nM","100 nM","50 nM"], "range": [[1,0],[5,3],[1.5,2.5]]}, "legend": null}}},
{"mark": {"type": "errorbar", "ticks": {"size": 5}, "color": "black", "thickness": 1}, "encoding": {"yError": {"field": "e"}}},
{"mark": {"type": "point", "filled": true, "color": "black", "size": 28, "opacity": 1}, "encoding": {"shape": {"field": "conc", "type": "nominal", "scale": {"domain": ["200 nM","100 nM","50 nM"], "range": ["circle","triangle-up","square"]}, "legend": null}}},
{"transform": [{"filter": "datum.r == 100"}], "mark": {"type": "text", "align": "left", "dx": 5, "fontSize": 8}, "encoding": {"text": {"field": "conc"}}}
]},
{
"encoding": {
"x": {"field": "t", "type": "quantitative", "scale": {"domain": [-10.8, 102.7], "range": [20, 104], "nice": false, "zero": false}, "axis": {"orient": "bottom", "offset": -87, "values": [0,24,48,72,96], "title": "Time (h)", "labelFontSize": 6.5, "titleFontSize": 6.5, "tickSize": 2, "labelPadding": 0, "titlePadding": -1, "zindex": 1, "domain": true, "domainColor": "#333", "domainWidth": 1}},
"y": {"field": "v", "type": "quantitative", "scale": {"domain": [-12.5, 103], "range": [83, 9], "nice": false, "zero": false}, "axis": {"orient": "left", "offset": -20, "values": [0,50,100], "title": null, "labelFontSize": 6.5, "tickSize": 2, "labelPadding": 1, "zindex": 1, "domain": true, "domainColor": "#333", "domainWidth": 1}}},
"layer": [
{"data": {"values": [{}]}, "mark": {"type": "rect", "fill": "white", "stroke": "#333", "strokeWidth": 1}, "encoding": {"x": {"datum": -10.8, "type": "quantitative"}, "x2": {"datum": 102.7}, "y": {"datum": -12.5, "type": "quantitative"}, "y2": {"datum": 103}}},
{"data": {"values": [{}]}, "mark": {"type": "rule", "color": "#333", "strokeWidth": 1}, "encoding": {"x": {"datum": -10.8, "type": "quantitative"}, "x2": {"datum": 102.7}, "y": {"datum": 103, "type": "quantitative"}}},
{"data": {"values": [{}]}, "mark": {"type": "rule", "color": "#333", "strokeWidth": 1}, "encoding": {"x": {"datum": 102.7, "type": "quantitative"}, "y": {"datum": -12.5, "type": "quantitative"}, "y2": {"datum": 103}}},
{"data": {"name": "abi"}, "transform": [{"filter": "datum.cell == 'MCF-10A'"}],
"encoding": {"color": {"field": "ratio", "type": "nominal", "scale": {"domain": ["100:0","91:9","80:20","61:39","0:100"], "range": ["#f4a233","#221c7c","#e535e5","#23ade4","#47c547"]}, "legend": {"title": null, "orient": "none", "legendX": 28, "legendY": 12, "symbolType": "M-2,0H2M-0.5,0A0.5,0.5,0,1,0,0.5,0A0.5,0.5,0,1,0,-0.5,0Z", "symbolSize": 40, "symbolStrokeWidth": 1.3, "labelFontSize": 5.5, "rowPadding": 0, "padding": 0, "labelOffset": 4}}},
"layer": [
{"mark": {"type": "line", "strokeWidth": 1.2}},
{"mark": {"type": "errorbar", "ticks": {"size": 3}, "thickness": 0.8}, "encoding": {"yError": {"field": "e"}}},
{"mark": {"type": "point", "filled": true, "size": 8, "opacity": 1}}
]}
]}
]
}
]
}
]
},
{
"spacing": 0,
"resolve": {"scale": {"color": "independent", "shape": "independent", "strokeDash": "independent"}, "legend": {"color": "independent", "shape": "independent", "strokeDash": "independent"}},
"vconcat": [
{
"title": {"text": "c", "anchor": "start", "fontWeight": "bold", "fontSize": 16, "offset": -15, "frame": "bounds"},
"bounds": "flush", "spacing": 3,
"resolve": {"scale": {"color": "independent", "shape": "independent", "strokeDash": "independent"}, "legend": {"color": "independent", "shape": "independent", "strokeDash": "independent"}},
"hconcat": [
{
"width": 219, "height": 178, "title": {"text": "HT1080", "offset": 4},
"resolve": {"scale": {"x": "independent", "y": "independent"}, "axis": {"x": "independent", "y": "independent"}},
"layer": [
{"data": {"name": "cd"}, "transform": [{"filter": "datum.cell == 'HT1080'"}],
"encoding": {
"x": {"field": "c", "type": "ordinal", "sort": ["0","50","100","200"], "scale": {"type": "point", "domain": ["0","50","100","200"], "padding": 0.73, "align": 0.68}, "axis": {"title": null, "labelAngle": 0}},
"y": {"field": "v", "type": "quantitative", "scale": {"domain": [-10.5, 110], "nice": false, "zero": false}, "axis": {"values": [0,20,40,60,80,100], "title": "Cytotoxicity (%)"}}},
"layer": [
{"encoding": {"color": {"field": "ratio", "type": "nominal", "scale": {"domain": ["80:C9","100:0","80:20"], "range": ["#707070","#f5901e","#e61ee6"]}, "legend": {"title": null, "orient": "none", "legendX": 163, "legendY": 137, "symbolType": "M-3.05,0H3.05M-0.5,0A0.5,0.5,0,1,0,0.5,0A0.5,0.5,0,1,0,-0.5,0Z", "symbolSize": 76, "symbolStrokeWidth": 1.8, "labelFontSize": 8.5, "rowPadding": 0, "padding": 0, "labelOffset": 10.5}}},
"layer": [
{"mark": {"type": "line", "strokeWidth": 1.8}},
{"mark": {"type": "errorbar", "ticks": {"size": 5}, "thickness": 1}, "encoding": {"yError": {"field": "e"}}},
{"transform": [{"filter": "datum.ratio == '80:C9'"}], "mark": {"type": "point", "shape": "diamond", "filled": true, "size": 34, "opacity": 1}},
{"transform": [{"filter": "datum.ratio == '100:0'"}], "mark": {"type": "point", "shape": "square", "filled": true, "size": 22, "opacity": 1}},
{"transform": [{"filter": "datum.ratio == '80:20'"}], "mark": {"type": "point", "shape": "circle", "filled": true, "size": 26, "opacity": 1}}
]},
{"transform": [{"filter": "datum.c == '50' && datum.ratio == '80:C9'"}], "mark": {"type": "rect", "width": 21, "filled": false, "color": "#555", "strokeWidth": 1}, "encoding": {"y": {"datum": 100.7}, "y2": {"datum": -18}}}
]},
{
"encoding": {
"x": {"field": "t", "type": "quantitative", "scale": {"domain": [-4.9, 75.2], "range": [15.3, 81.3], "nice": false, "zero": false}, "axis": {"orient": "bottom", "offset": -115.3, "values": [0,24,48,72], "title": "Time (h)", "labelFontSize": 6.5, "titleFontSize": 6.5, "tickSize": 2, "labelPadding": 0, "titlePadding": -1, "zindex": 1, "domain": true, "domainColor": "#333", "domainWidth": 1}},
"y": {"field": "v", "type": "quantitative", "scale": {"domain": [-14.8, 119.9], "range": [62.7, 1.7], "nice": false, "zero": false}, "axis": {"orient": "left", "offset": -15.3, "values": [0,50,100], "title": null, "labelFontSize": 6.5, "tickSize": 2, "labelPadding": 1, "zindex": 1, "domain": true, "domainColor": "#333", "domainWidth": 1}}},
"layer": [
{"data": {"values": [{}]}, "mark": {"type": "rect", "fill": "white", "stroke": "#333", "strokeWidth": 1}, "encoding": {"x": {"datum": -4.9, "type": "quantitative"}, "x2": {"datum": 75.2}, "y": {"datum": -14.8, "type": "quantitative"}, "y2": {"datum": 119.9}}},
{"data": {"values": [{}]}, "mark": {"type": "rule", "color": "#333", "strokeWidth": 1}, "encoding": {"x": {"datum": -4.9, "type": "quantitative"}, "x2": {"datum": 75.2}, "y": {"datum": 119.9, "type": "quantitative"}}},
{"data": {"values": [{}]}, "mark": {"type": "rule", "color": "#333", "strokeWidth": 1}, "encoding": {"x": {"datum": 75.2, "type": "quantitative"}, "y": {"datum": -14.8, "type": "quantitative"}, "y2": {"datum": 119.9}}},
{"data": {"name": "cdi"}, "transform": [{"filter": "datum.cell == 'HT1080'"}],
"encoding": {"color": {"field": "ratio", "type": "nominal", "scale": {"domain": ["80:C9","100:0","80:20"], "range": ["#707070","#f5901e","#e61ee6"]}, "legend": {"title": null, "orient": "none", "legendX": 163, "legendY": 137, "symbolType": "M-3.05,0H3.05M-0.5,0A0.5,0.5,0,1,0,0.5,0A0.5,0.5,0,1,0,-0.5,0Z", "symbolSize": 76, "symbolStrokeWidth": 1.8, "labelFontSize": 8.5, "rowPadding": 0, "padding": 0, "labelOffset": 10.5}}},
"layer": [
{"mark": {"type": "line", "strokeWidth": 1.2}},
{"mark": {"type": "errorbar", "ticks": {"size": 3}, "thickness": 0.8}, "encoding": {"yError": {"field": "e"}}}
]}
]}
]
},
{
"width": 219, "height": 178, "title": {"text": "MEF", "offset": 4},
"resolve": {"scale": {"x": "independent", "y": "independent"}, "axis": {"x": "independent", "y": "independent"}},
"layer": [
{"data": {"name": "cd"}, "transform": [{"filter": "datum.cell == 'MEF'"}],
"encoding": {
"x": {"field": "c", "type": "ordinal", "sort": ["0","50","100","200"], "scale": {"type": "point", "domain": ["0","50","100","200"], "padding": 0.73, "align": 0.68}, "axis": {"title": null, "labelAngle": 0}},
"y": {"field": "v", "type": "quantitative", "scale": {"domain": [-10.5, 110], "nice": false, "zero": false}, "axis": {"values": [0,20,40,60,80,100], "labels": false, "title": null}}},
"layer": [
{"encoding": {"color": {"field": "ratio", "type": "nominal", "scale": {"domain": ["80:C9","100:0","80:20"], "range": ["#707070","#f5901e","#e61ee6"]}, "legend": null}},
"layer": [
{"mark": {"type": "line", "strokeWidth": 1.8}},
{"mark": {"type": "errorbar", "ticks": {"size": 5}, "thickness": 1}, "encoding": {"yError": {"field": "e"}}},
{"transform": [{"filter": "datum.ratio == '80:C9'"}], "mark": {"type": "point", "shape": "diamond", "filled": true, "size": 34, "opacity": 1}},
{"transform": [{"filter": "datum.ratio == '100:0'"}], "mark": {"type": "point", "shape": "square", "filled": true, "size": 22, "opacity": 1}},
{"transform": [{"filter": "datum.ratio == '80:20'"}], "mark": {"type": "point", "shape": "circle", "filled": true, "size": 26, "opacity": 1}}
]},
{"transform": [{"filter": "datum.c == '200' && datum.ratio == '80:C9'"}], "mark": {"type": "rect", "width": 21, "filled": false, "color": "#555", "strokeWidth": 1}, "encoding": {"y": {"datum": 89.9}, "y2": {"datum": -19.6}}}
]},
{
"encoding": {
"x": {"field": "t", "type": "quantitative", "scale": {"domain": [-7.4, 79], "range": [13, 83], "nice": false, "zero": false}, "axis": {"orient": "bottom", "offset": -116.3, "values": [0,24,48,72], "title": "Time (h)", "labelFontSize": 6.5, "titleFontSize": 6.5, "tickSize": 2, "labelPadding": 0, "titlePadding": -1, "zindex": 1, "domain": true, "domainColor": "#333", "domainWidth": 1}},
"y": {"field": "v", "type": "quantitative", "scale": {"domain": [-12.6, 119.9], "range": [61.7, 1.7], "nice": false, "zero": false}, "axis": {"orient": "left", "offset": -13, "values": [0,50,100], "title": null, "labelFontSize": 6.5, "tickSize": 2, "labelPadding": 1, "zindex": 1, "domain": true, "domainColor": "#333", "domainWidth": 1}}},
"layer": [
{"data": {"values": [{}]}, "mark": {"type": "rect", "fill": "white", "stroke": "#333", "strokeWidth": 1}, "encoding": {"x": {"datum": -7.4, "type": "quantitative"}, "x2": {"datum": 79}, "y": {"datum": -12.6, "type": "quantitative"}, "y2": {"datum": 119.9}}},
{"data": {"values": [{}]}, "mark": {"type": "rule", "color": "#333", "strokeWidth": 1}, "encoding": {"x": {"datum": -7.4, "type": "quantitative"}, "x2": {"datum": 79}, "y": {"datum": 119.9, "type": "quantitative"}}},
{"data": {"values": [{}]}, "mark": {"type": "rule", "color": "#333", "strokeWidth": 1}, "encoding": {"x": {"datum": 79, "type": "quantitative"}, "y": {"datum": -12.6, "type": "quantitative"}, "y2": {"datum": 119.9}}},
{"data": {"name": "cdi"}, "transform": [{"filter": "datum.cell == 'MEF'"}],
"encoding": {"color": {"field": "ratio", "type": "nominal", "scale": {"domain": ["80:C9","100:0","80:20"], "range": ["#707070","#f5901e","#e61ee6"]}, "legend": null}},
"layer": [
{"mark": {"type": "line", "strokeWidth": 1.2}},
{"mark": {"type": "errorbar", "ticks": {"size": 3}, "thickness": 0.8}, "encoding": {"yError": {"field": "e"}}}
]}
]}
]
}
]
},
{
"title": {"text": "d", "anchor": "start", "fontWeight": "bold", "fontSize": 16, "offset": -15, "frame": "bounds"},
"bounds": "flush", "spacing": 3,
"resolve": {"scale": {"color": "independent", "shape": "independent", "strokeDash": "independent"}, "legend": {"color": "independent", "shape": "independent", "strokeDash": "independent"}},
"hconcat": [
{
"width": 219, "height": 178, "title": {"text": "MDA-MB-231", "offset": 4},
"resolve": {"scale": {"x": "independent", "y": "independent"}, "axis": {"x": "independent", "y": "independent"}},
"layer": [
{"data": {"name": "cd"}, "transform": [{"filter": "datum.cell == 'MDA-MB-231'"}],
"encoding": {
"x": {"field": "c", "type": "ordinal", "sort": ["0","50","100","200"], "scale": {"type": "point", "domain": ["0","50","100","200"], "padding": 0.73, "align": 0.68}, "axis": {"title": "[+] NP concentration (nM)", "labelAngle": 0, "titleFontSize": 11, "titlePadding": 3}},
"y": {"field": "v", "type": "quantitative", "scale": {"domain": [-10, 110], "nice": false, "zero": false}, "axis": {"values": [0,20,40,60,80,100], "title": "Cytotoxicity (%)"}}},
"layer": [
{"encoding": {"color": {"field": "ratio", "type": "nominal", "scale": {"domain": ["80:C9","100:0","80:20"], "range": ["#707070","#f5901e","#e61ee6"]}, "legend": {"title": null, "orient": "none", "legendX": 163, "legendY": 138, "symbolType": "M-3.05,0H3.05M-0.5,0A0.5,0.5,0,1,0,0.5,0A0.5,0.5,0,1,0,-0.5,0Z", "symbolSize": 76, "symbolStrokeWidth": 1.8, "labelFontSize": 8.5, "rowPadding": 0, "padding": 0, "labelOffset": 10.5}}},
"layer": [
{"mark": {"type": "line", "strokeWidth": 1.8}},
{"mark": {"type": "errorbar", "ticks": {"size": 5}, "thickness": 1}, "encoding": {"yError": {"field": "e"}}},
{"transform": [{"filter": "datum.ratio == '80:C9'"}], "mark": {"type": "point", "shape": "diamond", "filled": true, "size": 34, "opacity": 1}},
{"transform": [{"filter": "datum.ratio == '100:0'"}], "mark": {"type": "point", "shape": "square", "filled": true, "size": 22, "opacity": 1}},
{"transform": [{"filter": "datum.ratio == '80:20'"}], "mark": {"type": "point", "shape": "circle", "filled": true, "size": 26, "opacity": 1}}
]},
{"transform": [{"filter": "datum.c == '50' && datum.ratio == '80:C9'"}], "mark": {"type": "rect", "width": 21, "filled": false, "color": "#555", "strokeWidth": 1}, "encoding": {"y": {"datum": 66.4}, "y2": {"datum": -18.6}}}
]},
{
"encoding": {
"x": {"field": "t", "type": "quantitative", "scale": {"domain": [-4, 79.6], "range": [16, 85.3], "nice": false, "zero": false}, "axis": {"orient": "bottom", "offset": -116.3, "values": [0,24,48,72], "title": "Time (h)", "labelFontSize": 6.5, "titleFontSize": 6.5, "tickSize": 2, "labelPadding": 0, "titlePadding": -1, "zindex": 1, "domain": true, "domainColor": "#333", "domainWidth": 1}},
"y": {"field": "v", "type": "quantitative", "scale": {"domain": [-12.4, 114], "range": [61.7, 3.4], "nice": false, "zero": false}, "axis": {"orient": "left", "offset": -16, "values": [0,50,100], "title": null, "labelFontSize": 6.5, "tickSize": 2, "labelPadding": 1, "zindex": 1, "domain": true, "domainColor": "#333", "domainWidth": 1}}},
"layer": [
{"data": {"values": [{}]}, "mark": {"type": "rect", "fill": "white", "stroke": "#333", "strokeWidth": 1}, "encoding": {"x": {"datum": -4, "type": "quantitative"}, "x2": {"datum": 79.6}, "y": {"datum": -12.4, "type": "quantitative"}, "y2": {"datum": 114}}},
{"data": {"values": [{}]}, "mark": {"type": "rule", "color": "#333", "strokeWidth": 1}, "encoding": {"x": {"datum": -4, "type": "quantitative"}, "x2": {"datum": 79.6}, "y": {"datum": 114, "type": "quantitative"}}},
{"data": {"values": [{}]}, "mark": {"type": "rule", "color": "#333", "strokeWidth": 1}, "encoding": {"x": {"datum": 79.6, "type": "quantitative"}, "y": {"datum": -12.4, "type": "quantitative"}, "y2": {"datum": 114}}},
{"data": {"name": "cdi"}, "transform": [{"filter": "datum.cell == 'MDA-MB-231'"}],
"encoding": {"color": {"field": "ratio", "type": "nominal", "scale": {"domain": ["80:C9","100:0","80:20"], "range": ["#707070","#f5901e","#e61ee6"]}, "legend": {"title": null, "orient": "none", "legendX": 163, "legendY": 138, "symbolType": "M-3.05,0H3.05M-0.5,0A0.5,0.5,0,1,0,0.5,0A0.5,0.5,0,1,0,-0.5,0Z", "symbolSize": 76, "symbolStrokeWidth": 1.8, "labelFontSize": 8.5, "rowPadding": 0, "padding": 0, "labelOffset": 10.5}}},
"layer": [
{"mark": {"type": "line", "strokeWidth": 1.2}},
{"mark": {"type": "errorbar", "ticks": {"size": 3}, "thickness": 0.8}, "encoding": {"yError": {"field": "e"}}}
]}
]}
]
},
{
"width": 219, "height": 178, "title": {"text": "MCF-10A", "offset": 4},
"resolve": {"scale": {"x": "independent", "y": "independent"}, "axis": {"x": "independent", "y": "independent"}},
"layer": [
{"data": {"name": "cd"}, "transform": [{"filter": "datum.cell == 'MCF-10A'"}],
"encoding": {
"x": {"field": "c", "type": "ordinal", "sort": ["0","50","100","200"], "scale": {"type": "point", "domain": ["0","50","100","200"], "padding": 0.73, "align": 0.68}, "axis": {"title": "[+] NP concentration (nM)", "labelAngle": 0, "titleFontSize": 11, "titlePadding": 3}},
"y": {"field": "v", "type": "quantitative", "scale": {"domain": [-10, 110], "nice": false, "zero": false}, "axis": {"values": [0,20,40,60,80,100], "labels": false, "title": null}}},
"layer": [
{"encoding": {"color": {"field": "ratio", "type": "nominal", "scale": {"domain": ["80:C9","100:0","80:20"], "range": ["#707070","#f5901e","#e61ee6"]}, "legend": null}},
"layer": [
{"mark": {"type": "line", "strokeWidth": 1.8}},
{"mark": {"type": "errorbar", "ticks": {"size": 5}, "thickness": 1}, "encoding": {"yError": {"field": "e"}}},
{"transform": [{"filter": "datum.ratio == '80:C9'"}], "mark": {"type": "point", "shape": "diamond", "filled": true, "size": 34, "opacity": 1}},
{"transform": [{"filter": "datum.ratio == '100:0'"}], "mark": {"type": "point", "shape": "square", "filled": true, "size": 22, "opacity": 1}},
{"transform": [{"filter": "datum.ratio == '80:20'"}], "mark": {"type": "point", "shape": "circle", "filled": true, "size": 26, "opacity": 1}}
]},
{"transform": [{"filter": "datum.c == '200' && datum.ratio == '80:C9'"}], "mark": {"type": "rect", "width": 21, "filled": false, "color": "#555", "strokeWidth": 1}, "encoding": {"y": {"datum": 102.7}, "y2": {"datum": -17}}}
]},
{
"encoding": {
"x": {"field": "t", "type": "quantitative", "scale": {"domain": [-4.8, 82], "range": [14, 86.3], "nice": false, "zero": false}, "axis": {"orient": "bottom", "offset": -116.3, "values": [0,24,48,72], "title": "Time (h)", "labelFontSize": 6.5, "titleFontSize": 6.5, "tickSize": 2, "labelPadding": 0, "titlePadding": -1, "zindex": 1, "domain": true, "domainColor": "#333", "domainWidth": 1}},
"y": {"field": "v", "type": "quantitative", "scale": {"domain": [-12.4, 111.7], "range": [61.7, 4.4], "nice": false, "zero": false}, "axis": {"orient": "left", "offset": -14, "values": [0,50,100], "title": null, "labelFontSize": 6.5, "tickSize": 2, "labelPadding": 1, "zindex": 1, "domain": true, "domainColor": "#333", "domainWidth": 1}}},
"layer": [
{"data": {"values": [{}]}, "mark": {"type": "rect", "fill": "white", "stroke": "#333", "strokeWidth": 1}, "encoding": {"x": {"datum": -4.8, "type": "quantitative"}, "x2": {"datum": 82}, "y": {"datum": -12.4, "type": "quantitative"}, "y2": {"datum": 111.7}}},
{"data": {"values": [{}]}, "mark": {"type": "rule", "color": "#333", "strokeWidth": 1}, "encoding": {"x": {"datum": -4.8, "type": "quantitative"}, "x2": {"datum": 82}, "y": {"datum": 111.7, "type": "quantitative"}}},
{"data": {"values": [{}]}, "mark": {"type": "rule", "color": "#333", "strokeWidth": 1}, "encoding": {"x": {"datum": 82, "type": "quantitative"}, "y": {"datum": -12.4, "type": "quantitative"}, "y2": {"datum": 111.7}}},
{"data": {"name": "cdi"}, "transform": [{"filter": "datum.cell == 'MCF-10A'"}],
"encoding": {"color": {"field": "ratio", "type": "nominal", "scale": {"domain": ["80:C9","100:0","80:20"], "range": ["#707070","#f5901e","#e61ee6"]}, "legend": null}},
"layer": [
{"mark": {"type": "line", "strokeWidth": 1.2}},
{"mark": {"type": "errorbar", "ticks": {"size": 3}, "thickness": 0.8}, "encoding": {"yError": {"field": "e"}}}
]}
]}
]
}
]
}
]
}
],
"config": {
"font": "Liberation Sans",
"view": {"stroke": "#3a3a3a", "strokeWidth": 1},
"axis": {"grid": false, "domain": false, "tickColor": "#333", "labelColor": "#222", "titleColor": "#222", "labelFontSize": 9, "titleFontSize": 10.5, "titleFontWeight": "normal", "tickSize": 3, "labelPadding": 1, "titlePadding": 2, "minExtent": 0},
"title": {"fontSize": 13, "fontWeight": "normal", "offset": 4, "frame": "group", "color": "#111"},
"legend": {"labelColor": "#222"}
}
}
